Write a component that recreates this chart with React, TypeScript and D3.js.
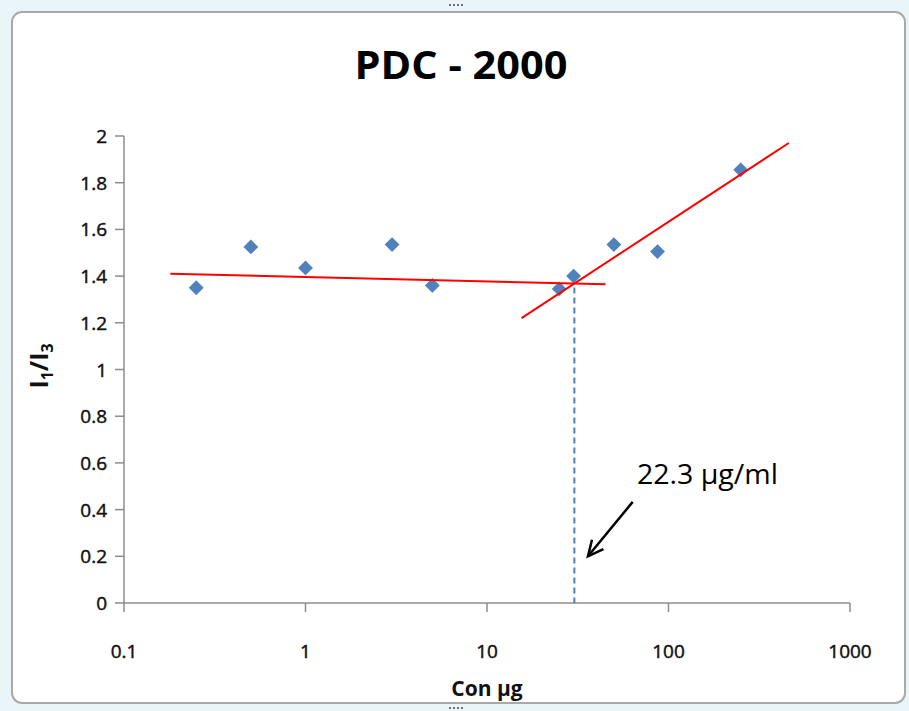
import React from "react";
import * as d3 from "d3";

// Measured I1/I3 ratios against concentration (µg)
const concentrations = [0.25, 0.5, 1, 3, 5, 25, 30, 50, 87, 250];
const ratios = [1.35, 1.525, 1.435, 1.535, 1.36, 1.345, 1.4, 1.535, 1.505, 1.855];

// Hand-drawn trend lines (endpoints in data units)
const lowFit = [
  { x: 0.18, y: 1.41 },
  { x: 45, y: 1.365 },
];
const highFit = [
  { x: 15.5, y: 1.22 },
  { x: 460, y: 1.97 },
];

const xTicks = [0.1, 1, 10, 100, 1000];
const yTicks = [0, 0.2, 0.4, 0.6, 0.8, 1, 1.2, 1.4, 1.6, 1.8, 2];

const title = "PDC - 2000";
const xTitle = "Con µg";
const cmcLabel = "22.3 µg/ml";

// Annotation anchor points (data units)
const labelAt = { x: 67, y: 0.51 };
const arrowFrom = { x: 63.5, y: 0.433 };
const arrowTo = { x: 36, y: 0.2 };

const W = 909;
const H = 711;
const plot = { left: 124, right: 850, top: 136, bottom: 603 };

const font = "'Open Sans', 'Liberation Sans', sans-serif";

export default function App() {
  const x = d3.scaleLog().domain([0.1, 1000]).range([plot.left, plot.right]);
  const y = d3.scaleLinear().domain([0, 2]).range([plot.bottom, plot.top]);

  const line = d3
    .line<{ x: number; y: number }>()
    .x((d) => x(d.x))
    .y((d) => y(d.y));

  // Intersection of the two trend lines in log-x space
  const lx = (v: number) => Math.log10(v);
  const m1 = (lowFit[1].y - lowFit[0].y) / (lx(lowFit[1].x) - lx(lowFit[0].x));
  const m2 = (highFit[1].y - highFit[0].y) / (lx(highFit[1].x) - lx(highFit[0].x));
  const b1 = lowFit[0].y - m1 * lx(lowFit[0].x);
  const b2 = highFit[0].y - m2 * lx(highFit[0].x);
  const crossL = (b2 - b1) / (m1 - m2);
  const cross = { x: Math.pow(10, crossL), y: m1 * crossL + b1 };

  const diamond = d3.symbol().type(d3.symbolSquare).size(110)();

  // Arrowhead geometry
  const ax1 = x(arrowFrom.x);
  const ay1 = y(arrowFrom.y);
  const ax2 = x(arrowTo.x);
  const ay2 = y(arrowTo.y);
  const ang = Math.atan2(ay2 - ay1, ax2 - ax1);
  const headLen = 17;
  const spread = 0.45;
  const h1 = [ax2 - headLen * Math.cos(ang - spread), ay2 - headLen * Math.sin(ang - spread)];
  const h2 = [ax2 - headLen * Math.cos(ang + spread), ay2 - headLen * Math.sin(ang + spread)];

  const axisColor = "#8c8c8c";
  const textColor = "#111111";

  return (
    <svg
      width={W}
      height={H}
      style={{ position: "absolute", left: 0, top: 0, background: "#ffffff" }}
      fontFamily={font}
    >
      {/* chart frame */}
      <rect x={0} y={0} width={W} height={H} fill="#eaf5f9" />
      <rect x={12} y={12} width={W - 16} height={H - 20} rx={10} ry={10} fill="#ffffff" stroke="#a9a9a9" strokeWidth={2} />
      <g fill="#6f6f6f">
        {[0, 1, 2, 3].map((i) => (
          <rect key={"t" + i} x={449 + i * 4} y={4} width={2} height={2} />
        ))}
        {[0, 1, 2, 3].map((i) => (
          <rect key={"b" + i} x={449 + i * 4} y={707} width={2} height={2} />
        ))}
      </g>

      {/* title */}
      <text x={461} y={79} textAnchor="middle" fontSize={40} fontWeight="bold" fill="#000" textLength={213} lengthAdjust="spacingAndGlyphs">
        {title}
      </text>

      {/* y axis */}
      <line x1={plot.left} x2={plot.left} y1={y(2)} y2={y(0)} stroke={axisColor} strokeWidth={1.5} />
      {yTicks.map((t) => (
        <g key={"y" + t}>
          <line x1={plot.left - 9} x2={plot.left} y1={y(t)} y2={y(t)} stroke={axisColor} strokeWidth={1.5} />
          <text x={107} y={y(t) + 7} textAnchor="end" fontSize={19} fill={textColor} stroke={textColor} strokeWidth={0.45}>
            {d3.format("~g")(t)}
          </text>
        </g>
      ))}

      {/* x axis */}
      <line x1={plot.left} x2={plot.right} y1={y(0)} y2={y(0)} stroke={axisColor} strokeWidth={1.5} />
      {xTicks.map((t) => (
        <g key={"x" + t}>
          <line x1={x(t)} x2={x(t)} y1={y(0)} y2={y(0) + 9} stroke={axisColor} strokeWidth={1.5} />
          <text x={x(t)} y={658} textAnchor="middle" fontSize={19} fill={textColor} stroke={textColor} strokeWidth={0.45}>
            {String(t)}
          </text>
        </g>
      ))}

      {/* axis titles */}
      <text x={487} y={696} textAnchor="middle" fontSize={21} fontWeight="bold" fill={textColor}>
        {xTitle}
      </text>
      <text transform="translate(48,366) rotate(-90)" textAnchor="middle" fontSize={25} fontWeight="bold" fill={textColor}>
        I<tspan fontSize={16} dy={5}>1</tspan>
        <tspan dy={-5}>/I</tspan>
        <tspan fontSize={16} dy={5}>3</tspan>
      </text>

      {/* critical concentration marker */}
      <line
        x1={x(cross.x)}
        x2={x(cross.x)}
        y1={y(cross.y) + 4}
        y2={y(0)}
        stroke="#4f81bd"
        strokeWidth={2}
        strokeDasharray="6,4"
      />

      {/* data points */}
      {concentrations.map((c, i) => (
        <path
          key={"p" + i}
          d={diamond || ""}
          transform={`translate(${x(c)},${y(ratios[i])}) rotate(45)`}
          fill="#4f81bd"
        />
      ))}

      {/* trend lines */}
      <path d={line(lowFit) || ""} fill="none" stroke="#ff0000" strokeWidth={2} />
      <path d={line(highFit) || ""} fill="none" stroke="#ff0000" strokeWidth={2} />

      {/* annotation */}
      <text x={x(labelAt.x)} y={y(labelAt.y)} fontSize={27} fill="#000" textLength={141} lengthAdjust="spacingAndGlyphs">
        {cmcLabel}
      </text>
      <line x1={ax1} y1={ay1} x2={ax2} y2={ay2} stroke="#000" strokeWidth={2.5} />
      <polyline
        points={`${h1[0]},${h1[1]} ${ax2},${ay2} ${h2[0]},${h2[1]}`}
        fill="none"
        stroke="#000"
        strokeWidth={2.5}
      />
    </svg>
  );
}
